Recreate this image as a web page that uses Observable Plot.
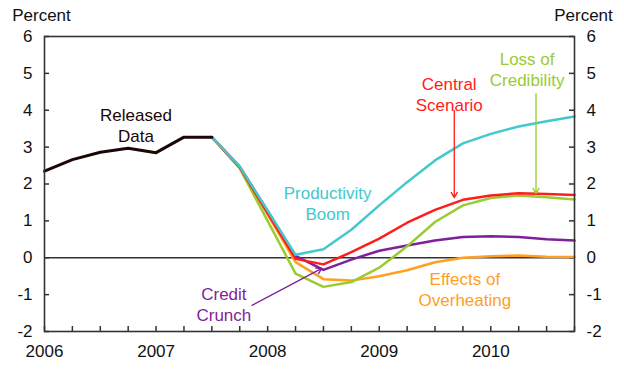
<!DOCTYPE html>
<html>
<head>
<meta charset="utf-8">
<script src="https://cdn.jsdelivr.net/npm/d3@7"></script>
<script src="https://cdn.jsdelivr.net/npm/@observablehq/plot@0.6"></script>
<style>
  body { margin: 0; background: #fff; }
</style>
</head>
<body>
<div id="chart"></div>
<script>
// Quarter index: 0 = 2006 Q1 ... 19 = 2010 Q4
const releasedQ = [0, 1, 2, 3, 4, 5, 6];
const released = [2.35, 2.66, 2.86, 2.97, 2.85, 3.27, 3.27];

const scenarioQ = [6, 7, 8, 9, 10, 11, 12, 13, 14, 15, 16, 17, 18, 19];
const centralScenario   = [3.27, 2.45, 1.21, -0.03, -0.18, 0.15, 0.52, 0.95, 1.30, 1.57, 1.69, 1.75, 1.73, 1.70];
const productivityBoom  = [3.27, 2.47, 1.28, 0.08, 0.23, 0.76, 1.42, 2.05, 2.64, 3.10, 3.36, 3.56, 3.70, 3.83];
const lossOfCredibility = [3.27, 2.42, 1.00, -0.43, -0.79, -0.66, -0.27, 0.31, 0.97, 1.42, 1.62, 1.69, 1.64, 1.58];
const creditCrunch      = [3.27, 2.47, 1.27, 0.05, -0.33, -0.05, 0.19, 0.33, 0.47, 0.56, 0.58, 0.56, 0.50, 0.47];
const overheating       = [3.27, 2.45, 1.17, -0.12, -0.58, -0.62, -0.50, -0.34, -0.12, 0.00, 0.04, 0.06, 0.03, 0.02];

const yTicks = [-2, -1, 0, 1, 2, 3, 4, 5, 6];
const quarterTicks = d3.range(0, 20);
const yearTicks = [0, 4, 8, 12, 16];
const yearLabels = ["2006", "2007", "2008", "2009", "2010"];

const colors = {
  released: "#1c0606",
  central: "#ff1c1c",
  productivity: "#44c8cc",
  credibility: "#99cc2e",
  crunch: "#7f1f9a",
  overheating: "#ffa020"
};

// Annotation labels (data coordinates)
const labels = [
  {text: "Released\nData", x: 3.28, y: 3.60, color: colors.released},
  {text: "Productivity\nBoom", x: 10.15, y: 1.50, color: colors.productivity},
  {text: "Central\nScenario", x: 14.51, y: 4.44, color: colors.central},
  {text: "Loss of\nCredibility", x: 17.3, y: 5.13, color: colors.credibility},
  {text: "Effects of\nOverheating", x: 15.07, y: -0.83, color: colors.overheating},
  {text: "Credit\nCrunch", x: 6.43, y: -1.25, color: colors.crunch}
];
const arrows = [
  {x1: 14.69, y1: 3.99, x2: 14.69, y2: 1.63, color: colors.central},
  {x1: 17.62, y1: 4.45, x2: 17.62, y2: 1.74, color: colors.credibility},
  {x1: 7.44, y1: -1.29, x2: 9.94, y2: -0.29, color: colors.crunch}
];

const series = (qs, vals, color, w) =>
  Plot.line(qs.map((q, i) => ({q, v: vals[i]})), {x: "q", y: "v", stroke: color, strokeWidth: w});

const frameW = 624 - 44 - 50;
const frameH = 370 - 36 - 39;

const chart = Plot.plot({
  width: 624,
  height: 370,
  marginLeft: 44,
  marginRight: 50,
  marginTop: 36,
  marginBottom: 39,
  style: {fontFamily: "'Liberation Sans', Arial, sans-serif", fontSize: "17px", background: "#fff", color: "#111"},
  x: {domain: [0, 19], axis: null},
  y: {domain: [-2, 6], axis: null},
  marks: [
    Plot.axisY(yTicks, {anchor: "left", tickSize: 0, tickPadding: 12, tickFormat: d => String(d), label: null, fill: "#111"}),
    Plot.axisY(yTicks, {anchor: "right", tickSize: 0, tickPadding: 12, tickFormat: d => String(d), label: null, fill: "#111"}),
    Plot.axisX(yearTicks, {anchor: "bottom", tickSize: 0, tickPadding: 13, tickFormat: (d, i) => yearLabels[i], label: null, fill: "#111"}),
    Plot.tickY(yTicks, {y: d => d, stroke: "#333", strokeWidth: 1.5, insetRight: frameW - 5}),
    Plot.tickY(yTicks, {y: d => d, stroke: "#333", strokeWidth: 1.5, insetLeft: frameW - 5}),
    Plot.tickX(quarterTicks, {x: d => d, stroke: "#333", strokeWidth: 1.5, insetTop: frameH - 5}),
    Plot.ruleY([0], {stroke: "#333", strokeWidth: 1.6}),
    series(scenarioQ, overheating, colors.overheating, 2.5),
    series(scenarioQ, creditCrunch, colors.crunch, 2.5),
    series(scenarioQ, lossOfCredibility, colors.credibility, 2.5),
    series(scenarioQ, centralScenario, colors.central, 2.5),
    series(scenarioQ, productivityBoom, colors.productivity, 2.5),
    series(releasedQ, released, colors.released, 3),
    Plot.arrow(arrows, {x1: "x1", y1: "y1", x2: "x2", y2: "y2", stroke: "color", strokeWidth: 1.3, headLength: 7}),
    Plot.text(labels, {x: "x", y: "y", text: "text", fill: "color", fontSize: 17, lineHeight: 1.24, textAnchor: "middle", lineAnchor: "middle"}),
    Plot.text(["Percent"], {frameAnchor: "top-left", dx: -3, dy: -21, textAnchor: "middle", lineAnchor: "middle", fill: "#111", fontSize: 17}),
    Plot.text(["Percent"], {frameAnchor: "top-right", dx: 9, dy: -21, textAnchor: "middle", lineAnchor: "middle", fill: "#111", fontSize: 17}),
    Plot.frame({stroke: "#333", strokeWidth: 1.6})
  ]
});
document.getElementById("chart").appendChild(chart);
</script>
</body>
</html>
